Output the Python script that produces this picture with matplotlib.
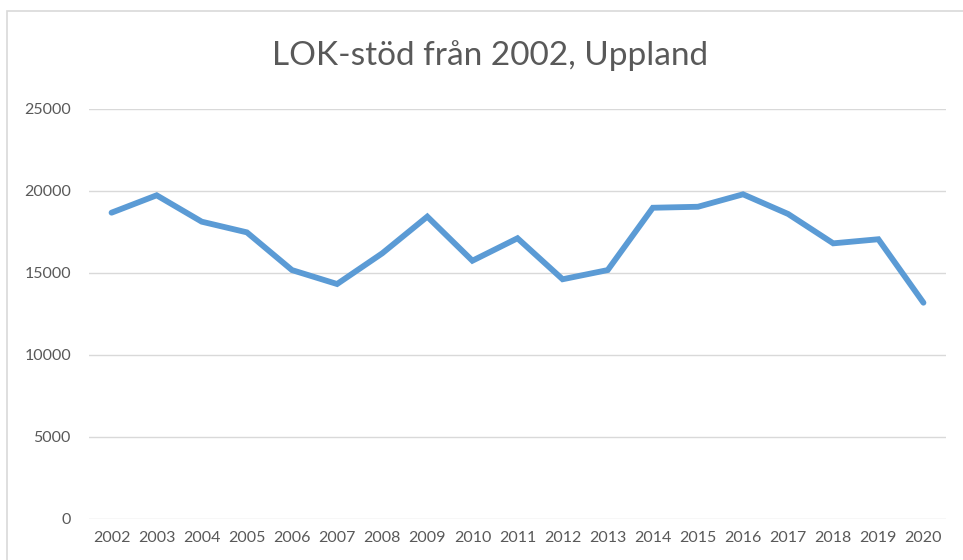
import matplotlib
matplotlib.use("Agg")
import matplotlib.pyplot as plt
from matplotlib.patches import Rectangle

years = [str(y) for y in range(2002, 2021)]
values = [18660, 19720, 18110, 17460, 15160, 14310, 16180, 18420, 15730,
          17100, 14600, 15160, 18960, 19020, 19780, 18580, 16790, 17040, 13170]
yticks = [0, 5000, 10000, 15000, 20000, 25000]
title = "LOK-stöd från 2002, Uppland"

W, H = 963, 560
fig = plt.figure(figsize=(W / 100, H / 100), dpi=100)
fig.patch.set_facecolor("white")
plt.rcParams['font.family'] = ['Lato', 'DejaVu Sans']

# outer chart frame
fig.add_artist(Rectangle((7 / W, -0.05), 1.1, 1 - 10.5 / H + 0.05,
                         transform=fig.transFigure, fill=False,
                         edgecolor="#D9D9D9", linewidth=1.2))

left, right = 89 / W, 946 / W
bottom, top = 1 - 518.7 / H, 1 - 108.7 / H
ax = fig.add_axes([left, bottom, right - left, top - bottom])

x = list(range(len(years)))
ax.plot(x, values, color="#5B9BD5", linewidth=4.2, solid_capstyle="round",
        solid_joinstyle="miter", zorder=3)

ax.set_xlim(-0.5, len(years) - 0.5)
ax.set_ylim(0, 25000)
ax.set_yticks(yticks)
ax.set_yticklabels([str(v) for v in yticks])
ax.set_xticks(x)
ax.set_xticklabels(years)
ax.grid(axis="y", color="#D9D9D9", linewidth=1.0)
ax.set_axisbelow(True)
for s in ax.spines.values():
    s.set_visible(False)
ax.tick_params(axis="both", length=0, colors="#595959", labelsize=11.5)
ax.tick_params(axis="y", pad=13)
ax.tick_params(axis="x", pad=9)

fig.text(490 / W, 1 - 56 / H, title, ha="center", va="center",
         fontsize=24, color="#595959")

fig.savefig("out.png", dpi=100)
